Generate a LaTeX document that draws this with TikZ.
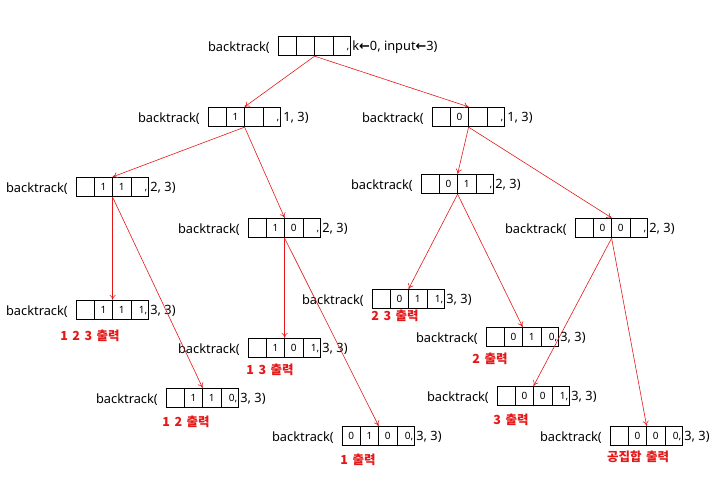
\documentclass[tikz,border=0pt]{standalone}
\usepackage{fontspec}
\setmainfont{Noto Sans}
\newfontfamily\arrowfont{DejaVu Sans}
\newfontfamily\kr{Noto Sans CJK KR}
\usetikzlibrary{shapes.multipart,positioning,arrows.meta}
\definecolor{outred}{RGB}{228,24,24}
\newcommand\cellbox[1]{\makebox[17.5pt]{\rule[-6.5pt]{0pt}{19.5pt}\fontsize{10}{12}\selectfont #1}}
\newcommand\lastcell[1]{\makebox[17.5pt][r]{\rule[-6.5pt]{0pt}{19.5pt}\fontsize{10}{12}\selectfont #1,\hspace{1.5pt}}}
\newcommand\arr{{\arrowfont\bfseries ←}}
\newcommand\gap{\hspace{4.5pt}}
\tikzset{
  callbox/.style={rectangle split, rectangle split horizontal, rectangle split parts=4,
    draw=black, line width=0.8pt, inner sep=0pt, anchor=west},
  fn/.style={font=\fontsize{12.8}{14}\selectfont, inner sep=0pt, yshift=-1.2pt},
  outlbl/.style={font=\kr\bfseries\fontsize{12.5}{14}\selectfont, text=outred, inner sep=0pt},
  call/.style={draw=outred, line width=0.6pt, -{To[length=5pt,width=6pt]}},
}
\begin{document}
\begin{tikzpicture}[x=1pt,y=-1pt]
\useasboundingbox (0,0) rectangle (725,481);

% root call
\node[callbox] (r) at (278,46) {\cellbox{}\nodepart{two}\cellbox{}\nodepart{three}\cellbox{}\nodepart{four}\lastcell{}};
\node[fn, left=8pt of r] (rf) {backtrack(};
\node[fn, right=1pt of r] (ra) {k\arr0, input\arr3)};

% level 1
\node[callbox] (a) at (208,117) {\cellbox{}\nodepart{two}\cellbox{1}\nodepart{three}\cellbox{}\nodepart{four}\lastcell{}};
\node[fn, left=8pt of a] (af) {backtrack(};
\node[fn, right=2pt of a] (aa) {1, 3)};

\node[callbox] (b) at (432,117) {\cellbox{}\nodepart{two}\cellbox{0}\nodepart{three}\cellbox{}\nodepart{four}\lastcell{}};
\node[fn, left=8pt of b] (bf) {backtrack(};
\node[fn, right=2pt of b] (ba) {1, 3)};

% level 2
\node[callbox] (aa1) at (76,187) {\cellbox{}\nodepart{two}\cellbox{1}\nodepart{three}\cellbox{1}\nodepart{four}\lastcell{}};
\node[fn, left=8pt of aa1] (aa1f) {backtrack(};
\node[fn, right=1pt of aa1] (aa1a) {2, 3)};

\node[callbox] (ab1) at (248,228) {\cellbox{}\nodepart{two}\cellbox{1}\nodepart{three}\cellbox{0}\nodepart{four}\lastcell{}};
\node[fn, left=8pt of ab1] (ab1f) {backtrack(};
\node[fn, right=1pt of ab1] (ab1a) {2, 3)};

\node[callbox] (ba1) at (421,184) {\cellbox{}\nodepart{two}\cellbox{0}\nodepart{three}\cellbox{1}\nodepart{four}\lastcell{}};
\node[fn, left=8pt of ba1] (ba1f) {backtrack(};
\node[fn, right=1pt of ba1] (ba1a) {2, 3)};

\node[callbox] (bb1) at (575,228) {\cellbox{}\nodepart{two}\cellbox{0}\nodepart{three}\cellbox{0}\nodepart{four}\lastcell{}};
\node[fn, left=8pt of bb1] (bb1f) {backtrack(};
\node[fn, right=1pt of bb1] (bb1a) {2, 3)};

% level 3 (leaves)
\node[callbox] (l1) at (76,310) {\cellbox{}\nodepart{two}\cellbox{1}\nodepart{three}\cellbox{1}\nodepart{four}\lastcell{1}};
\node[fn, left=8pt of l1] (l1f) {backtrack(};
\node[fn, right=1pt of l1] (l1a) {3, 3)};
\node[outlbl] (l1o) at (90,336) {1\gap 2\gap 3\gap 출력};

\node[callbox] (l2) at (166,398) {\cellbox{}\nodepart{two}\cellbox{1}\nodepart{three}\cellbox{1}\nodepart{four}\lastcell{0}};
\node[fn, left=8pt of l2] (l2f) {backtrack(};
\node[fn, right=1pt of l2] (l2a) {3, 3)};
\node[outlbl] (l2o) at (186,422) {1\gap 2\gap 출력};

\node[callbox] (l3) at (248,348) {\cellbox{}\nodepart{two}\cellbox{1}\nodepart{three}\cellbox{0}\nodepart{four}\lastcell{1}};
\node[fn, left=8pt of l3] (l3f) {backtrack(};
\node[fn, right=1pt of l3] (l3a) {3, 3)};
\node[outlbl] (l3o) at (270,370) {1\gap 3\gap 출력};

\node[callbox] (l4) at (342,436) {\cellbox{0}\nodepart{two}\cellbox{1}\nodepart{three}\cellbox{0}\nodepart{four}\lastcell{0}};
\node[fn, left=8pt of l4] (l4f) {backtrack(};
\node[fn, right=1pt of l4] (l4a) {3, 3)};
\node[outlbl] (l4o) at (358,460) {1\gap 출력};

\node[callbox] (l5) at (372,299) {\cellbox{}\nodepart{two}\cellbox{0}\nodepart{three}\cellbox{1}\nodepart{four}\lastcell{1}};
\node[fn, left=8pt of l5] (l5f) {backtrack(};
\node[fn, right=1pt of l5] (l5a) {3, 3)};
\node[outlbl] (l5o) at (395,316) {2\gap 3\gap 출력};

\node[callbox] (l6) at (486,337) {\cellbox{}\nodepart{two}\cellbox{0}\nodepart{three}\cellbox{1}\nodepart{four}\lastcell{0}};
\node[fn, left=8pt of l6] (l6f) {backtrack(};
\node[fn, right=1pt of l6] (l6a) {3, 3)};
\node[outlbl] (l6o) at (490,359) {2\gap 출력};

\node[callbox] (l7) at (497,396) {\cellbox{}\nodepart{two}\cellbox{0}\nodepart{three}\cellbox{0}\nodepart{four}\lastcell{1}};
\node[fn, left=8pt of l7] (l7f) {backtrack(};
\node[fn, right=1pt of l7] (l7a) {3, 3)};
\node[outlbl] (l7o) at (511,420) {3\gap 출력};

\node[callbox] (l8) at (610,436) {\cellbox{}\nodepart{two}\cellbox{0}\nodepart{three}\cellbox{0}\nodepart{four}\lastcell{0}};
\node[fn, left=8pt of l8] (l8f) {backtrack(};
\node[fn, right=1pt of l8] (l8a) {3, 3)};
\node[outlbl] (l8o) at (638,457) {공집합\gap 출력};

% recursive calls
\draw[call] (r.south) -- (a.north);
\draw[call] (r.south) -- (b.north);
\draw[call] (a.south) -- (aa1.north);
\draw[call] (a.south) -- (ab1.north);
\draw[call] (b.south) -- (ba1.north);
\draw[call] (b.south) -- (bb1.north);
\draw[call] (aa1.south) -- (l1.north);
\draw[call] (aa1.south) -- (l2.north);
\draw[call] (ab1.south) -- (l3.north);
\draw[call] (ab1.south) -- (l4.north);
\draw[call] (ba1.south) -- (l5.north);
\draw[call] (ba1.south) -- (l6.north);
\draw[call] (bb1.south) -- (l7.north);
\draw[call] (bb1.south) -- (l8.north);
\end{tikzpicture}
\end{document}
